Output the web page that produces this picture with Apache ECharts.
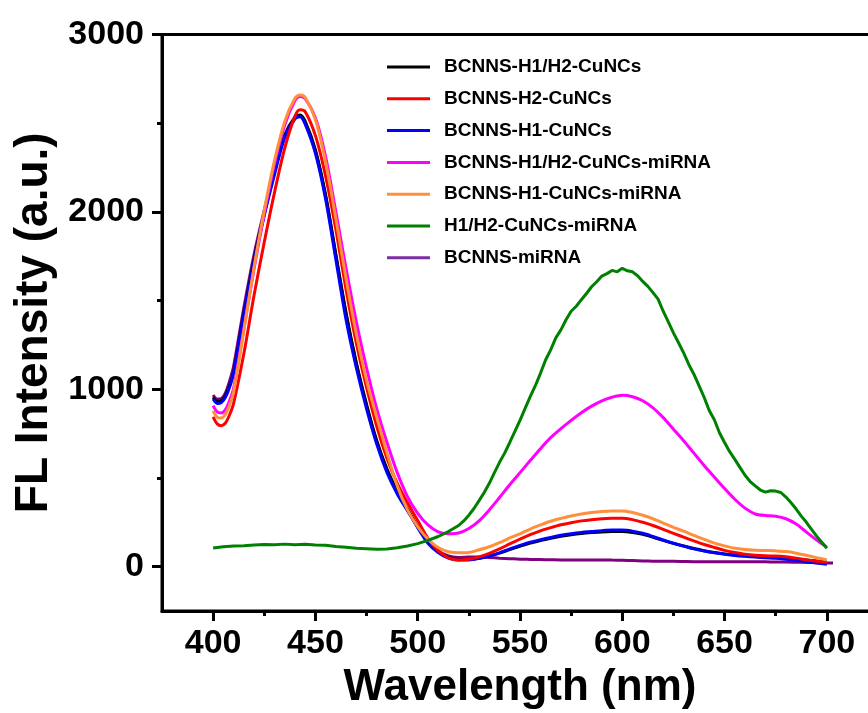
<!DOCTYPE html>
<html>
<head>
<meta charset="utf-8">
<script src="https://cdn.jsdelivr.net/npm/echarts@6/dist/echarts.min.js"></script>
<style>
html,body{margin:0;padding:0;background:#fff;}
#chart{width:868px;height:713px;}
</style>
</head>
<body>
<div id="chart"></div>
<script>
// ---- data ----
const wl = [400,402,404,406,408,410,415,420,425,430,435,440,442.5,445,450,455,460,465,470,475,480,485,490,495,500,505,510,515,520,525,530,535,540,545,550,555,560,565,570,575,580,585,590,595,600,605,610,615,620,625,630,635,640,645,650,655,660,665,670,675,680,685,690,695,700];

const h1h2CuNCs = [955,932,935,965,1020,1100,1430,1730,1990,2225,2430,2535,2546,2510,2350,2095,1760,1430,1150,915,710,550,425,325,225,140,85,52,40,40,48,60,76,96,115,133,147,160,171,180,187,192,196,198,198,193,182,166,148,131,116,102,90,80,72,66,61,57,54,51,47,42,37,32,28];

const h2CuNCs = [845,805,795,810,855,920,1200,1530,1830,2110,2360,2540,2576,2565,2430,2200,1900,1560,1260,1010,790,610,470,360,260,160,90,50,38,42,55,75,100,128,155,180,202,220,236,248,258,265,270,273,273,265,250,232,210,188,166,145,125,108,92,80,70,64,61,60,56,48,38,30,23];

const h1CuNCs = [945,920,925,955,1010,1090,1420,1720,1980,2210,2420,2525,2537,2495,2330,2070,1730,1390,1120,890,690,530,410,315,220,132,80,48,38,38,46,60,78,100,120,138,152,165,177,186,193,198,203,206,206,200,188,170,150,132,116,100,88,78,70,63,58,54,50,47,42,36,28,21,14];

const h1h2CuNCsMiRNA = [908,872,866,885,935,1005,1340,1680,1990,2270,2490,2628,2650,2638,2530,2310,2000,1680,1380,1120,890,700,530,395,300,235,196,186,190,215,258,320,390,462,530,598,665,727,778,825,868,905,935,955,966,958,935,895,840,775,710,640,570,505,440,380,330,297,288,284,270,240,195,150,110];

const h1CuNCsMiRNA = [878,842,838,860,910,985,1330,1690,2010,2290,2510,2640,2659,2645,2520,2280,1960,1620,1310,1050,840,640,455,320,225,155,108,84,78,80,95,112,135,162,185,212,235,256,272,286,297,305,311,314,314,305,290,270,246,222,200,176,154,133,117,104,97,93,91,89,85,76,64,50,38];

const bcnnsMiRNAwl = wl.concat([703]);
const bcnnsMiRNA = [968,945,948,980,1045,1130,1460,1760,2010,2240,2435,2530,2540,2500,2340,2085,1750,1420,1140,905,700,540,418,320,222,140,88,60,52,54,55,52,48,45,42,41,40,39,38,38,37,37,38,37,36,34,32,31,30,30,29,28,28,28,28,28,28,27,27,26,26,25,24,22,21,20];

const wlGreen = [400,405,410,415,420,425,430,435,440,445,450,455,460,465,470,475,480,485,490,495,500,505,510,515,520,522.5,525,527.5,530,532.5,535,537.5,540,542.5,545,547.5,550,552.5,555,557.5,560,562.5,565,567.5,570,572.5,575,577.5,580,582.5,585,587.5,590,592.5,595,597.5,600,602.5,605,607.5,610,612.5,615,617.5,620,622.5,625,627.5,630,632.5,635,637.5,640,642.5,645,647.5,650,652.5,655,657.5,660,662.5,665,667.5,670,672.5,675,677.5,680,682.5,685,687.5,690,692.5,695,697.5,700];
const h1h2MiRNA = [105,112,116,118,122,125,124,127,124,126,122,121,114,110,104,101,98,100,106,116,130,148,170,198,232,258,290,328,372,418,470,530,588,640,700,762,825,892,958,1020,1090,1165,1222,1290,1335,1392,1440,1468,1505,1540,1578,1606,1638,1652,1670,1662,1682,1668,1662,1640,1608,1580,1545,1508,1440,1380,1318,1262,1205,1140,1085,1020,955,880,828,755,700,648,605,560,515,480,455,432,420,428,426,418,392,360,325,285,250,210,172,138,104];

const seriesNames = ['BCNNS-H1/H2-CuNCs','BCNNS-H2-CuNCs','BCNNS-H1-CuNCs','BCNNS-H1/H2-CuNCs-miRNA','BCNNS-H1-CuNCs-miRNA','H1/H2-CuNCs-miRNA','BCNNS-miRNA'];
const seriesColors = ['#000000','#ff0000','#0000ff','#ff00ff','#ff8f3a','#008000','#7b2fa0'];

const xMajor = [400,450,500,550,600,650,700];
const xMinor = [425,475,525,575,625,675];
const yMajor = [0,1000,2000,3000];
const yMinor = [500,1500,2500];

// ---- chart ----
function zip(xs, ys){ return ys.map((v,i)=>[xs[i], v]); }
const FONT = "'Liberation Sans', Arial, sans-serif";

const lineSeries = [
  {name: seriesNames[6], xs: bcnnsMiRNAwl, ys: bcnnsMiRNA, color: '#800080', smooth: 0.3},
  {name: seriesNames[0], xs: wl, ys: h1h2CuNCs, color: seriesColors[0], smooth: 0.3},
  {name: seriesNames[2], xs: wl, ys: h1CuNCs, color: seriesColors[2], smooth: 0.3},
  {name: seriesNames[1], xs: wl, ys: h2CuNCs, color: seriesColors[1], smooth: 0.3},
  {name: seriesNames[3], xs: wl, ys: h1h2CuNCsMiRNA, color: seriesColors[3], smooth: 0.3},
  {name: seriesNames[4], xs: wl, ys: h1CuNCsMiRNA, color: seriesColors[4], smooth: 0.3},
  {name: seriesNames[5], xs: wlGreen, ys: h1h2MiRNA, color: seriesColors[5], smooth: false}
].map(s => ({
  name: s.name,
  type: 'line',
  xAxisIndex: 0,
  yAxisIndex: 0,
  data: zip(s.xs, s.ys),
  smooth: s.smooth,
  showSymbol: false,
  symbol: 'none',
  lineStyle: {color: s.color, width: 3},
  itemStyle: {color: s.color},
  animation: false
}));

const chart = echarts.init(document.getElementById('chart'), null, {renderer: 'canvas'});
chart.setOption({
  backgroundColor: '#ffffff',
  animation: false,
  color: seriesColors,
  grid: {left: 162, top: 34.5, right: -10, bottom: 102, containLabel: false, outerBoundsMode: 'none',
         show: true, borderColor: '#000', borderWidth: 3, backgroundColor: 'transparent'},
  legend: {
    orient: 'vertical',
    left: 382,
    top: 51.5,
    itemWidth: 43,
    itemHeight: 3,
    itemGap: 10.8,
    icon: 'rect',
    data: seriesNames.map((n,i)=>({name: n, itemStyle: {color: seriesColors[i]}})),
    textStyle: {fontFamily: FONT, fontWeight: 'bold', fontSize: 19, color: '#000', lineHeight: 21, padding: [0,0,0,9]}
  },
  xAxis: [
    {type: 'value', min: 375, max: 725, position: 'bottom',
     name: 'Wavelength (nm)', nameLocation: 'middle', nameGap: 52,
     nameTextStyle: {fontFamily: FONT, fontWeight: 'bold', fontSize: 44, color: '#000'},
     axisLine: {show: true, onZero: false, lineStyle: {color: '#000', width: 3}},
     axisTick: {show: true, inside: false, length: 10, lineStyle: {color: '#000', width: 3}, customValues: xMajor},
     axisLabel: {show: true, margin: 16, fontFamily: FONT, fontWeight: 'bold', fontSize: 34, color: '#000', customValues: xMajor,
                 formatter: v => String(v)},
     splitLine: {show: false}},
    {type: 'value', min: 375, max: 725, position: 'bottom',
     axisLine: {show: false, onZero: false},
     axisTick: {show: true, length: 5, lineStyle: {color: '#000', width: 3}, customValues: xMinor},
     axisLabel: {show: false},
     splitLine: {show: false}}
  ],
  yAxis: [
    {type: 'value', min: -250, max: 3000, position: 'left',
     name: 'FL Intensity (a.u.)', nameLocation: 'middle', nameGap: 94,
     nameTextStyle: {fontFamily: FONT, fontWeight: 'bold', fontSize: 46, color: '#000'},
     axisLine: {show: true, onZero: false, lineStyle: {color: '#000', width: 3}},
     axisTick: {show: true, inside: false, length: 10, lineStyle: {color: '#000', width: 3}, customValues: yMajor},
     axisLabel: {show: true, margin: 18, fontFamily: FONT, fontWeight: 'bold', fontSize: 34, color: '#000', customValues: yMajor,
                 formatter: v => String(v)},
     splitLine: {show: false}},
    {type: 'value', min: -250, max: 3000, position: 'left',
     axisLine: {show: false, onZero: false},
     axisTick: {show: true, length: 5, lineStyle: {color: '#000', width: 3}, customValues: yMinor},
     axisLabel: {show: false},
     splitLine: {show: false}}
  ],
  series: lineSeries
});
</script>
</body>
</html>
